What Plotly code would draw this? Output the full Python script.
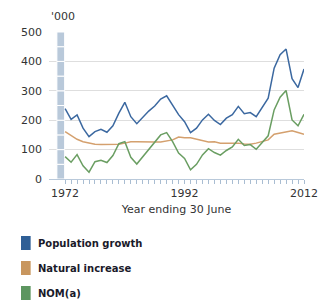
import plotly.graph_objects as go

years = list(range(1972, 2013))

population_growth = [239, 203, 218, 173, 144, 161, 169, 159, 181, 224,
                     261, 212, 188, 210, 231, 248, 272, 283, 251, 219,
                     195, 158, 173, 201, 220, 199, 185, 207, 219, 247,
                     222, 226, 212, 244, 275, 377, 423, 442, 341, 311,
                     374]
natural_increase = [161, 147, 135, 127, 122, 118, 117, 118, 117, 118,
                    122, 127, 127, 126, 125, 126, 126, 130, 133, 143,
                    140, 140, 135, 132, 126, 127, 122, 122, 122, 122,
                    119, 118, 122, 128, 133, 152, 156, 158, 164, 158,
                    152]
nom = [76, 57, 83, 45, 23, 59, 64, 56, 80, 120,
       127, 74, 51, 76, 102, 128, 150, 158, 127, 88,
       70, 31, 50, 82, 103, 90, 81, 97, 109, 135,
       114, 117, 101, 124, 147, 235, 278, 301, 201, 181,
       220]

series_names = ["Population growth", "Natural increase", "NOM(a)"]
line_colors = ["#3b68a0", "#d4a06e", "#6a9e62"]
swatch_colors = ["#2f5f96", "#c8965e", "#5d9660"]

x_tick_labels = {1972: "1972", 1992: "1992", 2012: "2012"}
y_ticks = [0, 100, 200, 300, 400, 500]

# series-break marker before 1972, drawn as 50-unit blocks
break_blocks = [50] * 10
break_bases = [50 * i for i in range(10)]

font = "DejaVu Sans"
text_col = "#333333"

fig = go.Figure()

fig.add_trace(go.Bar(
    x=[1971.27] * len(break_blocks),
    y=break_blocks,
    base=break_bases,
    width=1.3,
    marker=dict(color="#b9c9da", line=dict(color="white", width=1)),
    showlegend=False,
    hoverinfo="skip",
))

for name, vals, col in zip(series_names, [population_growth, natural_increase, nom], line_colors):
    fig.add_trace(go.Scatter(
        x=years, y=vals, name=name, mode="lines",
        line=dict(color=col, width=1.5),
        showlegend=False,
    ))

# page body has an 8px margin, so the figure is 8px smaller each way
fig.update_layout(
    width=322, height=300,
    margin=dict(l=41, r=17, t=24, b=129),
    plot_bgcolor="white", paper_bgcolor="white",
    barmode="overlay",
    font=dict(family=font, size=11, color=text_col),
    xaxis=dict(
        range=[1969.3, 2012],
        tickmode="array",
        tickvals=years,
        ticktext=[x_tick_labels.get(y, "") for y in years],
        ticks="outside", ticklen=4, tickcolor="#a9bdd2",
        showline=True, linecolor="#b9c9da", linewidth=1,
        showgrid=False, zeroline=False,
        tickfont=dict(size=11, color=text_col),
        title=dict(text="Year ending 30 June", standoff=6,
                   font=dict(size=11, color=text_col)),
    ),
    yaxis=dict(
        range=[0, 500],
        tickvals=y_ticks,
        showgrid=True, gridcolor="#dedede", gridwidth=1,
        zeroline=False, showline=False,
        ticks="", ticklabelstandoff=6,
        tickfont=dict(size=11, color=text_col),
    ),
)

# units label, pinned to the very top of the figure
fig.add_annotation(
    text="'000", xref="paper", yref="paper", x=0, y=1.0,
    xanchor="left", yanchor="top", yshift=24, showarrow=False,
    font=dict(size=11, color=text_col),
)

# custom legend with tall swatches
legend_y = [243, 268, 293]
for name, col, py in zip(series_names, swatch_colors, legend_y):
    fig.add_shape(
        type="rect", xref="paper", yref="paper",
        x0=(20 - 49) / 264, x1=(30 - 49) / 264,
        y0=(179 - (py - 7)) / 147, y1=(179 - (py + 7)) / 147,
        fillcolor=col, line=dict(width=0),
    )
    fig.add_annotation(
        text="<b>" + name + "</b>", xref="paper", yref="paper",
        x=(36 - 49) / 264, y=(179 - py) / 147,
        xanchor="left", yanchor="middle", showarrow=False,
        font=dict(size=10, color="#1a1a2a"),
    )

fig.write_html("out.html")
